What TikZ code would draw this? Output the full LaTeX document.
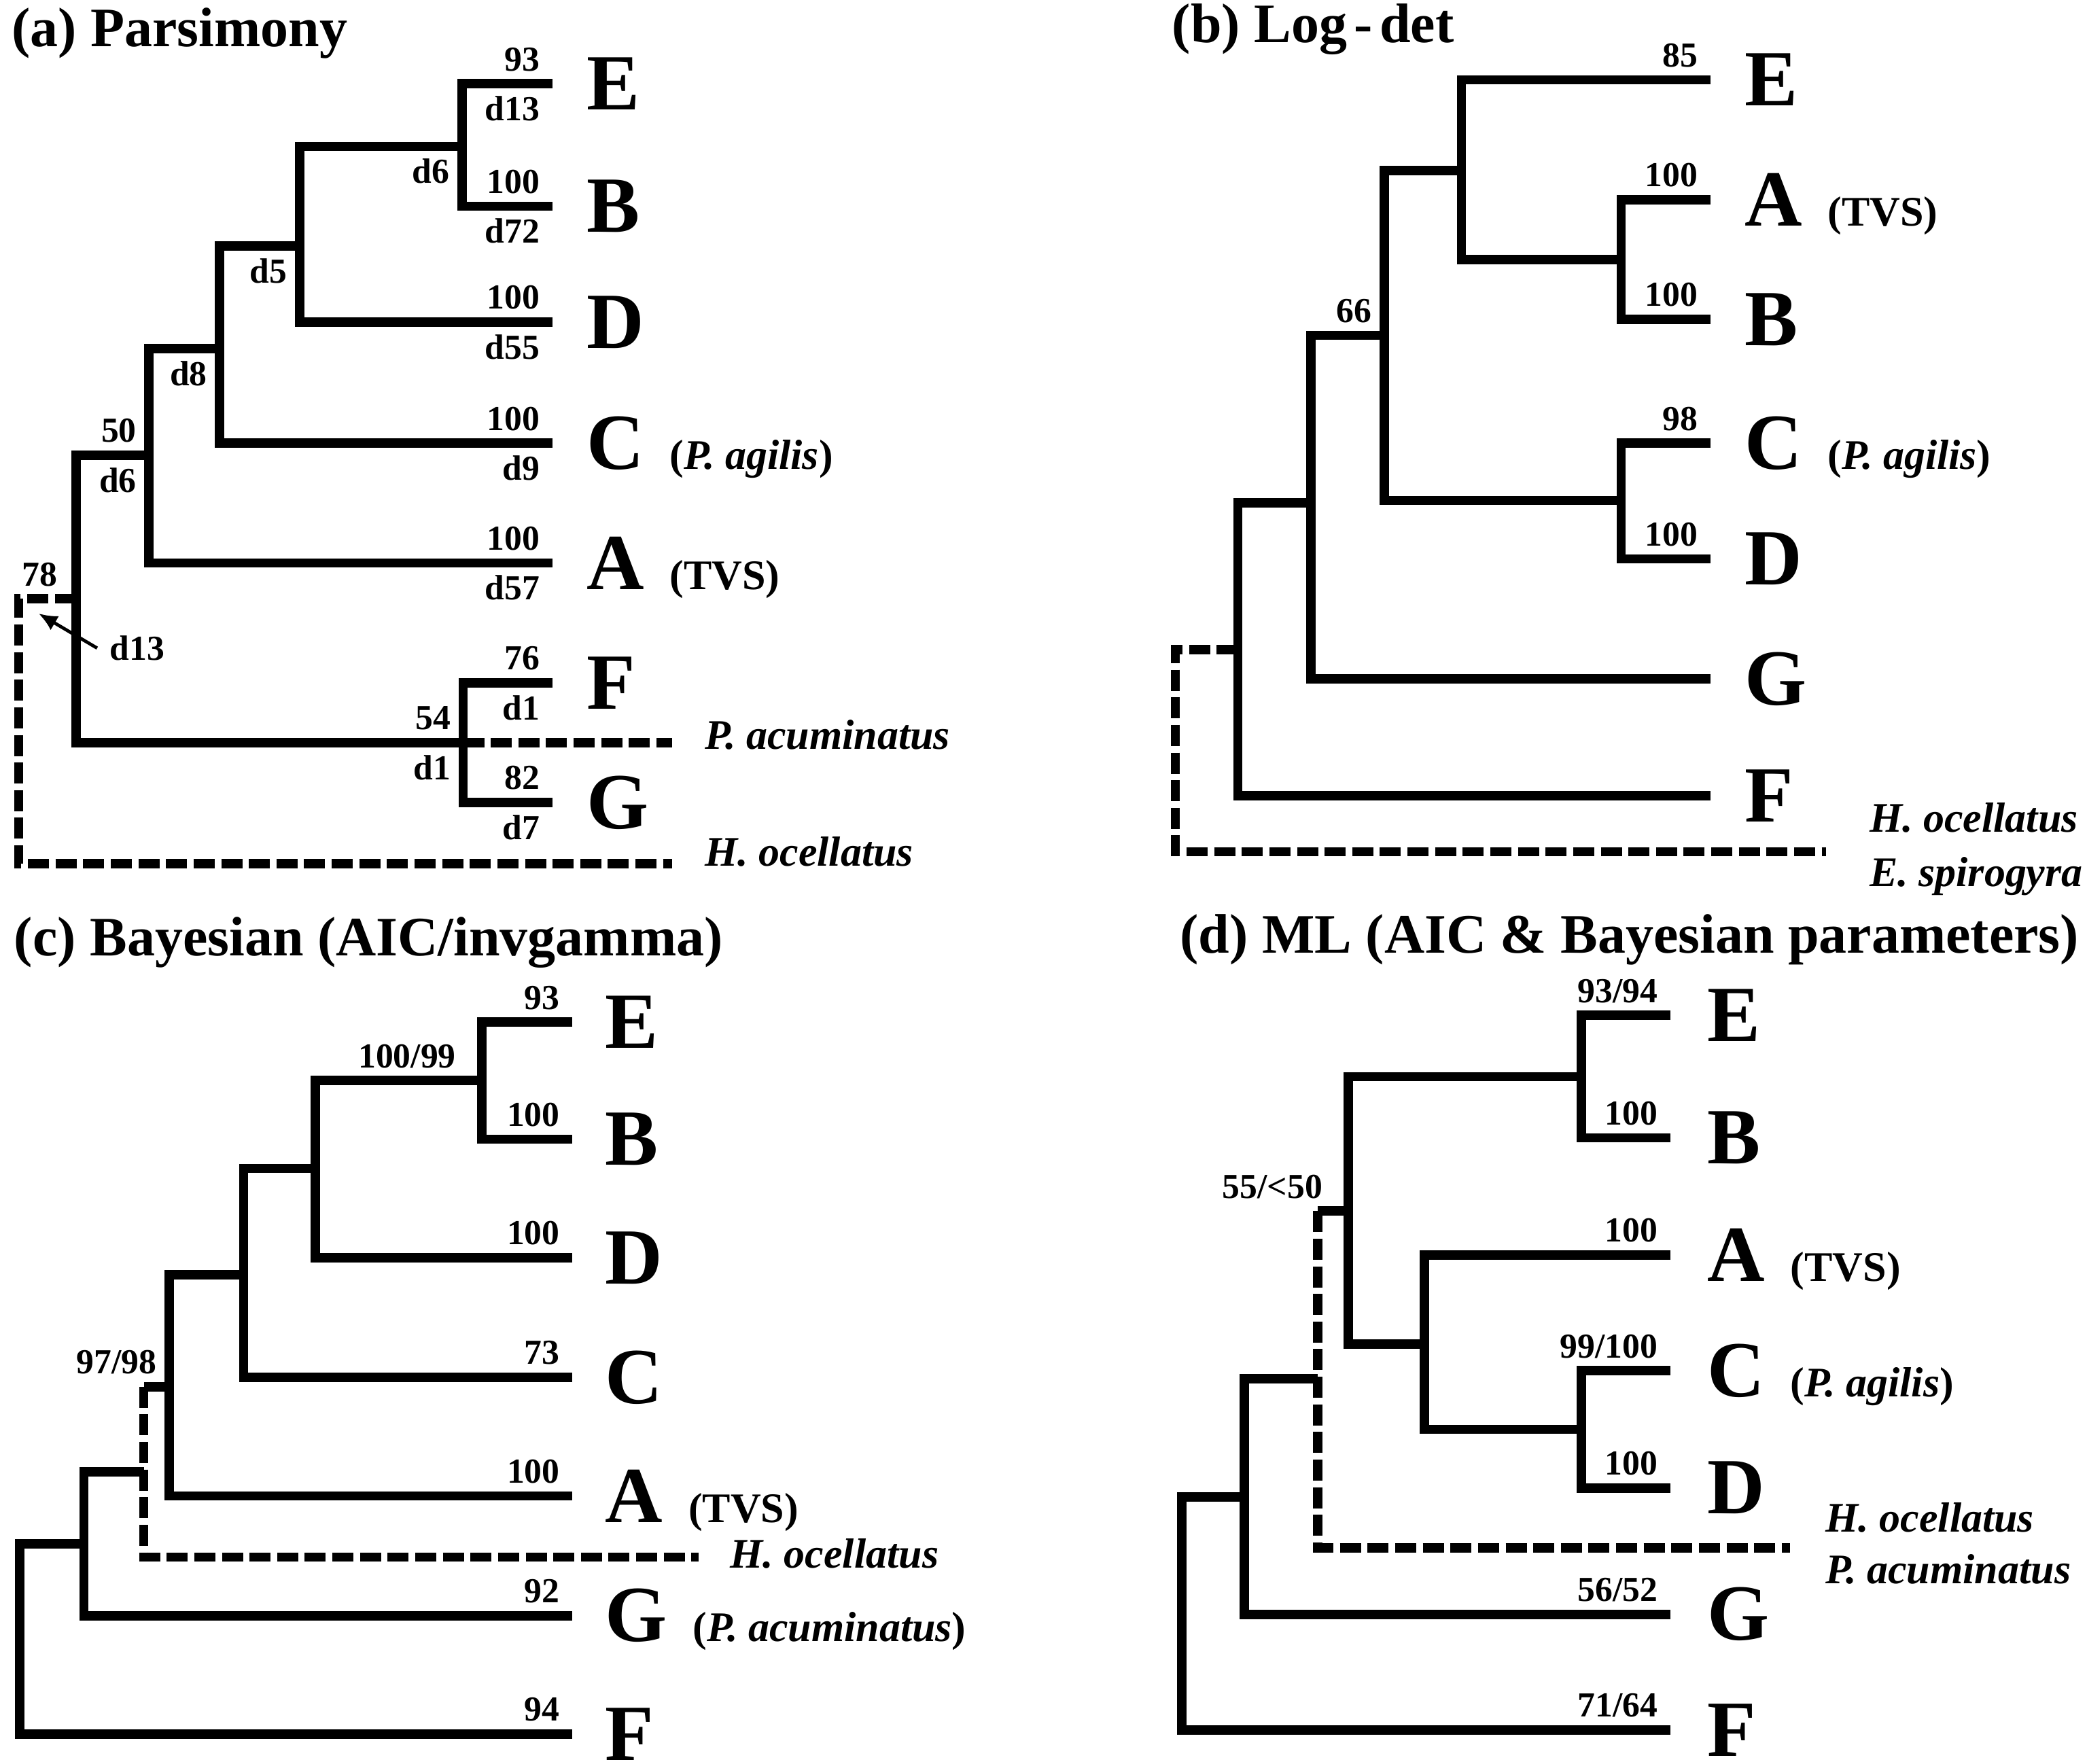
\documentclass[tikz,border=0pt]{standalone}
\usepackage{fontspec}
\setmainfont{Liberation Serif}
\usepackage{tikz}
\usetikzlibrary{arrows.meta, positioning}

\begin{document}
\begin{tikzpicture}[x=0.01cm, y=-0.01cm,
  br/.style={line width=2pt, line join=miter},
  og/.style={br, dash pattern=on 4.5pt off 1.4pt},
  bs/.style={font=\fontsize{7.5}{8}\selectfont\bfseries, inner sep=2.5pt},
  tx/.style={font=\fontsize{17}{17}\selectfont\bfseries, inner sep=0pt},
  sp/.style={font=\fontsize{9}{10}\selectfont\bfseries, inner sep=0pt},
  spi/.style={font=\fontsize{9}{10}\selectfont\bfseries\itshape, inner sep=0pt, anchor=base west},
  ttl/.style={font=\fontsize{11.9}{14}\selectfont\bfseries, inner sep=0pt, anchor=base west}]
  \useasboundingbox (0,0) rectangle (1568,1325);

  % (a) parsimony
  \node[ttl] (ta) at (8,35) {(a) Parsimony};
  \foreach \t/\y/\lab/\dst in {E/63/93/d13, B/155/100/d72, D/242/100/d55, C/333/100/d9,
                               A/423/100/d57, F/513/76/d1, G/603/82/d7} {
    \coordinate (a\t) at (415,\y);
    \node[tx, right=0.25cm of a\t] (a\t-tx) {\t};
    \node[bs, anchor=south east] (a\t-bs) at (a\t) {\lab};
    \node[bs, anchor=north east] (a\t-d) at (a\t) {\dst};
  }
  \node[sp, base right=0.18cm of aC-tx] (aC-sp) {(\textit{P. agilis})};
  \node[sp, base right=0.18cm of aA-tx] (aA-sp) {(TVS)};
  \coordinate (aEB) at (347,110);
  \coordinate (aEBD) at (225,185);
  \coordinate (aEBDC) at (165,262);
  \coordinate (aIn) at (112,342);
  \coordinate (aR) at (57,450);
  \coordinate (aFG) at (348,558);
  \coordinate (aPa) at (505,558);
  \coordinate (aO) at (14,649);
  \coordinate (aHo) at (505,649);
  \draw[br] (aE) -| (aEB) |- (aB);
  \draw[br] (aEB) -| (aEBD) |- (aD);
  \draw[br] (aEBD) -| (aEBDC) |- (aC);
  \draw[br] (aEBDC) -| (aIn) |- (aA);
  \draw[br] (aIn) -| (aR) |- (aFG);
  \draw[br] (aF) -| (aFG) |- (aG);
  \draw[og] (aFG) -- (aPa);
  \draw[og] (aR) -| (aO) -- (aHo);
  \node[bs, anchor=north east] (aEB-d) at (aEB) {d6};
  \node[bs, anchor=north east] (aEBD-d) at (aEBD) {d5};
  \node[bs, anchor=north east] (aEBDC-d) at (aEBDC) {d8};
  \node[bs, anchor=south east] (aIn-bs) at (aIn) {50};
  \node[bs, anchor=north east] (aIn-d) at (aIn) {d6};
  \node[bs, anchor=south east] (aFG-bs) at (aFG) {54};
  \node[bs, anchor=north east] (aFG-d) at (aFG) {d1};
  \node[bs, anchor=south] (aR-bs) at (30,450) {78};
  \node[bs] (aR-d) at (103,487) {d13};
  \coordinate (aR-tip) at (29,461);
  \draw[line width=0.7pt, -{Latex[length=4pt,width=3.5pt]}] (aR-d.west) -- (aR-tip);
  \node[spi] (aPa-sp) at ([shift={(0.24cm,-0.05cm)}]aPa) {P. acuminatus};
  \node[spi] (aHo-sp) at ([shift={(0.24cm,-0.02cm)}]aHo) {H. ocellatus};

  % (b) log-det
  \node[ttl] (tb) at (880,32) {(b) Log\kern1.5pt-\kern1.5pt det};
  \foreach \t/\y in {E/60, A/150, B/240, C/333, D/420, G/510, F/598} {
    \coordinate (b\t) at (1285,\y);
    \node[tx, right=0.25cm of b\t] (b\t-tx) {\t};
  }
  \foreach \t/\lab in {E/85, A/100, B/100, C/98, D/100}
    \node[bs, anchor=south east] (b\t-bs) at (b\t) {\lab};
  \node[sp, base right=0.18cm of bA-tx] (bA-sp) {(TVS)};
  \node[sp, base right=0.18cm of bC-tx] (bC-sp) {(\textit{P. agilis})};
  \coordinate (bAB) at (1218,195);
  \coordinate (bEAB) at (1098,128);
  \coordinate (bCD) at (1218,376);
  \coordinate (bX) at (1040,252);
  \coordinate (bGn) at (985,378);
  \coordinate (bR) at (930,488);
  \coordinate (bO) at (883,640);
  \coordinate (bOe) at (1372,640);
  \draw[br] (bA) -| (bAB) |- (bB);
  \draw[br] (bE) -| (bEAB) |- (bAB);
  \draw[br] (bC) -| (bCD) |- (bD);
  \draw[br] (bEAB) -| (bX) |- (bCD);
  \draw[br] (bX) -| (bGn) |- (bG);
  \draw[br] (bGn) -| (bR) |- (bF);
  \draw[og] (bR) -| (bO) -- (bOe);
  \node[bs, anchor=south east] (bX-bs) at (bX) {66};
  \node[spi] (bOe-h) at ([shift={(0.32cm,0.15cm)}]bOe) {H. ocellatus};
  \node[spi] (bOe-e) at ([shift={(0.32cm,-0.26cm)}]bOe) {E. spirogyra};

  % (c) bayesian
  \node[ttl] (tc) at (10,718) {(c) Bayesian (AIC/invgamma)};
  \foreach \t/\y/\lab in {E/768/93, B/856/100, D/945/100, C/1035/73,
                          A/1124/100, G/1214/92, F/1303/94} {
    \coordinate (c\t) at (430,\y);
    \node[tx, right=0.24cm of c\t] (c\t-tx) {\t};
    \node[bs, anchor=south east] (c\t-bs) at (c\t) {\lab};
  }
  \node[sp, base right=0.18cm of cA-tx] (cA-sp) {(TVS)};
  \node[sp, base right=0.18cm of cG-tx] (cG-sp) {(\textit{P. acuminatus})};
  \coordinate (cEB) at (362,812);
  \coordinate (cEBD) at (237,878);
  \coordinate (cCn) at (183,958);
  \coordinate (cAn) at (127,1042);
  \coordinate (cH) at (108,1042);
  \coordinate (cHm) at (108,1106);
  \coordinate (cHb) at (108,1170);
  \coordinate (cHe) at (525,1170);
  \coordinate (cGn) at (63,1160);
  \coordinate (cR) at (15,1232);
  \draw[br] (cE) -| (cEB) |- (cB);
  \draw[br] (cEB) -| (cEBD) |- (cD);
  \draw[br] (cEBD) -| (cCn) |- (cC);
  \draw[br] (cCn) -| (cAn) |- (cA);
  \draw[br] (cAn) -- (cH);
  \draw[og] (cH) -- (cHb) -- (cHe);
  \draw[br] (cHm) -| (cGn) |- (cG);
  \draw[br] (cGn) -| (cR) |- (cF);
  \node[bs, anchor=south east, xshift=-0.1cm] (cEB-bs) at (cEB) {100/99};
  \node[bs, anchor=south east] (cAn-bs) at (cAn) {97/98};
  \node[spi] (cHe-sp) at ([shift={(0.23cm,-0.08cm)}]cHe) {H. ocellatus};

  % (d) ML
  \node[ttl] (td) at (886,716) {(d) ML (AIC \& Bayesian parameters)};
  \foreach \t/\y/\lab in {E/763/{93/94}, B/855/100, A/943/100, C/1030/{99/100},
                          D/1118/100, G/1213/{56/52}, F/1300/{71/64}} {
    \coordinate (d\t) at (1255,\y);
    \node[tx, right=0.27cm of d\t] (d\t-tx) {\t};
    \node[bs, anchor=south east] (d\t-bs) at (d\t) {\lab};
  }
  \node[sp, base right=0.18cm of dA-tx] (dA-sp) {(TVS)};
  \node[sp, base right=0.18cm of dC-tx] (dC-sp) {(\textit{P. agilis})};
  \coordinate (dEB) at (1188,809);
  \coordinate (dCD) at (1188,1074);
  \coordinate (dACD) at (1070,1010);
  \coordinate (dIn) at (1013,910);
  \coordinate (dH) at (990,910);
  \coordinate (dHm) at (990,1036);
  \coordinate (dHb) at (990,1163);
  \coordinate (dHe) at (1345,1163);
  \coordinate (dGn) at (935,1125);
  \coordinate (dR) at (888,1212);
  \draw[br] (dE) -| (dEB) |- (dB);
  \draw[br] (dC) -| (dCD) |- (dD);
  \draw[br] (dA) -| (dACD) |- (dCD);
  \draw[br] (dEB) -| (dIn) |- (dACD);
  \draw[br] (dIn) -- (dH);
  \draw[og] (dH) -- (dHb) -- (dHe);
  \draw[br] (dHm) -| (dGn) |- (dG);
  \draw[br] (dGn) -| (dR) |- (dF);
  \node[bs, anchor=south east, xshift=-0.1cm] (dIn-bs) at (dIn) {55/<50};
  \node[spi] (dHe-h) at ([shift={(0.26cm,0.12cm)}]dHe) {H. ocellatus};
  \node[spi] (dHe-p) at ([shift={(0.26cm,-0.27cm)}]dHe) {P. acuminatus};
\end{tikzpicture}
\end{document}
